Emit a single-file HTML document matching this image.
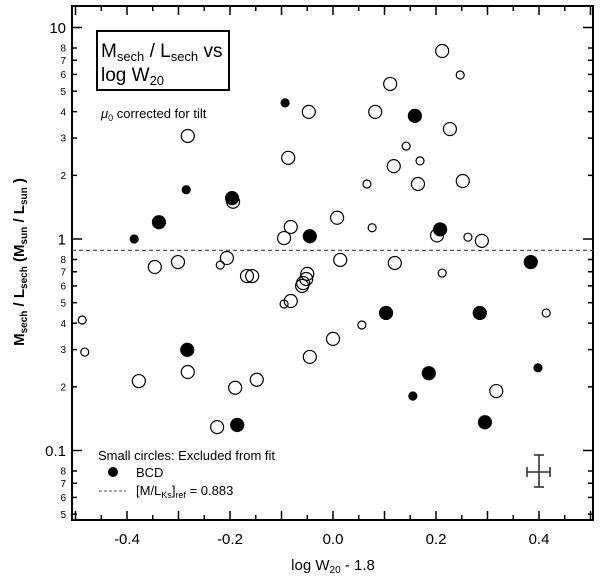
<!DOCTYPE html>
<html><head><meta charset="utf-8"><style>
html,body{margin:0;padding:0;background:#fff;}
svg{display:block;font-family:"Liberation Sans",sans-serif;}
</style></head><body>
<svg id="chart" width="600" height="578" viewBox="0 0 600 578">
<g id="ticks"></g>
<g id="marks"></g>
<rect x="72" y="6" width="521" height="514" fill="none" stroke="#000" stroke-width="2"/>
<line x1="72" x2="593" y1="250.4" y2="250.4" stroke="#555" stroke-width="1.2" stroke-dasharray="4,3"/>
<g>
<rect x="97" y="31" width="132" height="59" fill="#fff" stroke="#000" stroke-width="2"/>
<text x="101" y="57" font-size="19">M<tspan font-size="13" dy="4">sech</tspan><tspan dy="-4"> / L</tspan><tspan font-size="13" dy="4">sech</tspan><tspan dy="-4"> vs</tspan></text>
<text x="101" y="81" font-size="19">log W<tspan font-size="13" dy="4">20</tspan></text>
</g>
<text x="101" y="118" font-size="13"><tspan font-style="italic">μ</tspan><tspan font-size="9" dy="3">0</tspan><tspan dy="-3"> corrected for tilt</tspan></text>
<g>
<text x="98" y="460" font-size="13">Small circles:  Excluded from fit</text>
<circle cx="113" cy="472" r="5" fill="#000"/>
<text x="136" y="477" font-size="13">BCD</text>
<line x1="99" x2="126" y1="491" y2="491" stroke="#555" stroke-dasharray="3,2"/>
<text x="136" y="495" font-size="13">[M/L<tspan font-size="9" dy="3">Ks</tspan><tspan dy="-3">]</tspan><tspan font-size="9" dy="3">ref</tspan><tspan dy="-3"> = 0.883</tspan></text>
</g>
<g stroke="#333" stroke-width="1.6">
<line x1="527" x2="550" y1="472" y2="472"/><line x1="539" x2="539" y1="455" y2="487"/>
<line x1="527" x2="527" y1="467" y2="477"/><line x1="550" x2="550" y1="467" y2="477"/>
<line x1="534" x2="544" y1="455" y2="455"/><line x1="534" x2="544" y1="487" y2="487"/>
</g>
<text x="333" y="570" font-size="15" text-anchor="middle">log W<tspan font-size="10" dy="3">20</tspan><tspan dy="-3"> - 1.8</tspan></text>
<text transform="translate(24,262) rotate(-90)" font-size="15" font-weight="bold" text-anchor="middle">M<tspan font-size="10" dy="3">sech</tspan><tspan dy="-3"> / L</tspan><tspan font-size="10" dy="3">sech</tspan><tspan dy="-3">  (M</tspan><tspan font-size="10" dy="3">sun</tspan><tspan dy="-3"> / L</tspan><tspan font-size="10" dy="3">sun</tspan><tspan dy="-3"> )</tspan></text>
</svg>
<script>
const openLarge=[[0.212,7.74],[0.111,5.41],[-0.047,3.99],[0.082,3.99],[0.227,3.31],[-0.282,3.07],[-0.087,2.42],[0.118,2.21],[0.165,1.82],[0.252,1.88],[-0.194,1.50],[0.008,1.26],[-0.082,1.14],[-0.095,1.01],[0.202,1.04],[0.289,0.98],[-0.346,0.737],[-0.301,0.778],[-0.206,0.813],[-0.167,0.668],[-0.157,0.668],[0.014,0.796],[0.120,0.770],[-0.050,0.684],[-0.052,0.647],[-0.058,0.619],[-0.060,0.600],[-0.082,0.509],[0.000,0.337],[-0.045,0.277],[-0.282,0.235],[-0.377,0.213],[-0.190,0.198],[-0.148,0.216],[-0.225,0.129],[0.317,0.191]];
const openSmall=[[0.247,5.96],[0.142,2.75],[0.169,2.34],[0.066,1.82],[0.076,1.13],[0.262,1.02],[0.212,0.690],[-0.219,0.753],[-0.095,0.493],[0.056,0.392],[0.414,0.447],[-0.487,0.414],[-0.482,0.292]];
const filledLarge=[[0.159,3.82],[-0.196,1.56],[-0.338,1.20],[-0.045,1.03],[0.208,1.11],[0.384,0.778],[0.103,0.447],[0.285,0.447],[-0.283,0.299],[0.186,0.232],[0.295,0.136],[-0.186,0.132]];
const filledSmall=[[-0.093,4.40],[-0.285,1.71],[-0.386,1.00],[0.155,0.181],[0.398,0.246]];
const xTickLabels=["-0.4","-0.2","0.0","0.2","0.4"];
const xTickValues=[-0.4,-0.2,0,0.2,0.4];
const yMajorValues=[0.1,1,10];
const yMajorLabels=["0.1","1","10"];
const yMinorValues=[0.05,0.06,0.07,0.08,0.2,0.3,0.4,0.5,0.6,0.7,0.8,2,3,4,5,6,7,8];
const yMinorLabels=["5","6","7","8","2","3","4","5","6","7","8","2","3","4","5","6","7","8"];
const NS="http://www.w3.org/2000/svg";
function sx(v){return 333+515*v;}
function sy(v){return 239-211.5*Math.log10(v);}
function mk(tag,attrs,parent){const e=document.createElementNS(NS,tag);for(const k in attrs)e.setAttribute(k,attrs[k]);parent.appendChild(e);return e;}
const marks=document.getElementById('marks');
function draw(arr,r,fill,name){arr.forEach(p=>{const c=mk('circle',{cx:sx(p[0]),cy:sy(p[1]),r:r,fill:fill,stroke:'#000','stroke-width':1.2},marks);

});}
draw(openLarge,6.5,'none','open-circle-large');
draw(openSmall,4,'none','open-circle-small');
draw(filledLarge,6.5,'#000','bcd-point-large');
draw(filledSmall,4,'#000','bcd-point-small');
const tk=document.getElementById('ticks');
for(let i=-10;i<=10;i++){const v=i*0.05;const x=sx(v);if(x<73||x>592)continue;const L=(i%2===0)?9:5;
const a=mk('line',{x1:x,x2:x,y1:520,y2:520-L,stroke:'#000','stroke-width':1.5},tk);


const b=mk('line',{x1:x,x2:x,y1:6,y2:6+L,stroke:'#000','stroke-width':1.5},tk);

}
xTickValues.forEach((v,i)=>{const t=mk('text',{x:sx(v),y:544,'font-size':15,'text-anchor':'middle'},tk);t.textContent=xTickLabels[i];

});
function ytick(v,L,lab,fs){const y=sy(v);
const a=mk('line',{x1:72,x2:72+L,y1:y,y2:y,stroke:'#000','stroke-width':1.5},tk);


const b=mk('line',{x1:593,x2:593-L,y1:y,y2:y,stroke:'#000','stroke-width':1.5},tk);


const t=mk('text',{x:66,y:y+fs*0.36,'font-size':fs,'text-anchor':'end'},tk);t.textContent=lab;

}
yMajorValues.forEach((v,i)=>ytick(v,10,yMajorLabels[i],15));
yMinorValues.forEach((v,i)=>ytick(v,5,yMinorLabels[i],10));
</script>
</body></html>
